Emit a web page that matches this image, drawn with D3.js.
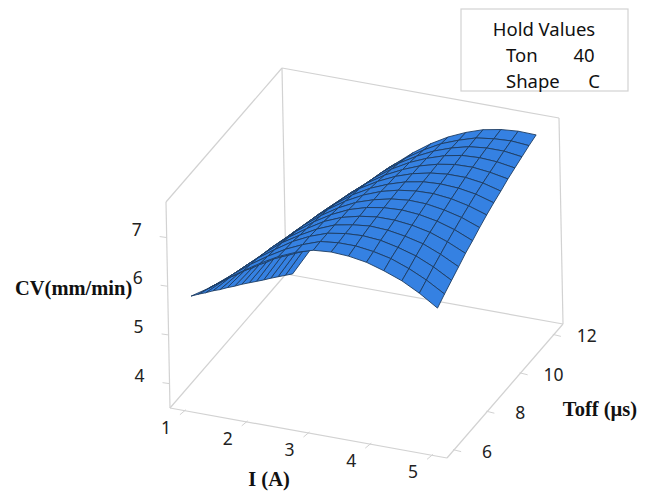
<!DOCTYPE html>
<html>

<script src="https://d3js.org/d3.v7.min.js"></script>

<style>

  body, html {
    padding: 0;
    margin: 0;
    background: white;
  }

  svg {
    display: block;
  }

</style>

<body>
  <svg width="648" height="491"></svg>

  <script>

    // fitted surface: one row per Toff, one column per I

    var currentValues = [1, 1.29, 1.57, 1.86, 2.14, 2.43, 2.71, 3, 3.29, 3.57, 3.86, 4.14, 4.43, 4.71, 5];
    var toffValues = [6, 6.43, 6.86, 7.29, 7.71, 8.14, 8.57, 9, 9.43, 9.86, 10.29, 10.71, 11.14, 11.57, 12];

    var cvValues = [
      [5.66, 5.89, 6.14, 6.38, 6.60, 6.80, 6.95, 7.06, 7.09, 7.07, 7.01, 6.90, 6.76, 6.57, 6.33],
      [5.53, 5.80, 6.07, 6.34, 6.57, 6.78, 6.94, 7.07, 7.11, 7.11, 7.06, 6.98, 6.84, 6.67, 6.45],
      [5.39, 5.70, 6.00, 6.30, 6.54, 6.77, 6.94, 7.07, 7.13, 7.15, 7.12, 7.04, 6.93, 6.77, 6.56],
      [5.26, 5.61, 5.93, 6.24, 6.51, 6.73, 6.92, 7.07, 7.14, 7.18, 7.16, 7.10, 7.01, 6.86, 6.67],
      [5.12, 5.50, 5.85, 6.19, 6.46, 6.70, 6.91, 7.06, 7.15, 7.20, 7.20, 7.16, 7.08, 6.95, 6.78],
      [4.99, 5.41, 5.77, 6.12, 6.41, 6.67, 6.88, 7.05, 7.16, 7.22, 7.24, 7.21, 7.14, 7.03, 6.87],
      [4.85, 5.29, 5.69, 6.05, 6.36, 6.63, 6.85, 7.03, 7.15, 7.23, 7.27, 7.26, 7.20, 7.11, 6.97],
      [4.72, 5.19, 5.60, 5.99, 6.30, 6.59, 6.82, 7.01, 7.15, 7.24, 7.29, 7.30, 7.26, 7.18, 7.06],
      [4.58, 5.07, 5.51, 5.91, 6.24, 6.53, 6.78, 6.98, 7.13, 7.24, 7.31, 7.33, 7.31, 7.25, 7.14],
      [4.44, 4.97, 5.41, 5.83, 6.17, 6.47, 6.74, 6.95, 7.12, 7.24, 7.32, 7.36, 7.36, 7.31, 7.21],
      [4.30, 4.84, 5.32, 5.74, 6.10, 6.41, 6.68, 6.91, 7.09, 7.23, 7.33, 7.39, 7.40, 7.36, 7.29],
      [4.17, 4.71, 5.19, 5.63, 6.00, 6.33, 6.62, 6.87, 7.07, 7.22, 7.34, 7.41, 7.43, 7.41, 7.35],
      [4.03, 4.58, 5.07, 5.52, 5.91, 6.25, 6.56, 6.82, 7.03, 7.20, 7.33, 7.42, 7.46, 7.46, 7.41],
      [3.89, 4.45, 4.94, 5.40, 5.80, 6.17, 6.49, 6.76, 6.99, 7.18, 7.32, 7.43, 7.48, 7.50, 7.47],
      [3.75, 4.30, 4.81, 5.28, 5.70, 6.07, 6.41, 6.70, 6.95, 7.15, 7.31, 7.43, 7.50, 7.53, 7.52]
    ];

    var currentTicks = [1, 2, 3, 4, 5];
    var toffTicks = [6, 8, 10, 12];
    var cvTicks = [4, 5, 6, 7];

    var holdNames = ['Ton', 'Shape'];
    var holdSettings = ['40', 'C'];

    var svg = d3.select('svg');
    var tickFont = '"Noto Sans", sans-serif';
    var titleFont = '"Liberation Serif", serif';
    var boxColor = '#d2d2d2';

    // axis ranges of the box, each scale gives a 0-1 position along its edge

    var u = d3.scaleLinear().domain([0.758, 5.242]).range([0, 1]);
    var v = d3.scaleLinear().domain([5.512, 12.488]).range([0, 1]);
    var w = d3.scaleLinear().domain([3.5, 7.73]).range([0, 1]);

    // oblique projection of the box onto the page
    function project(i, t, z) {
      return [
        170 + 277 * u(i) + 116 * v(t) - 4 * w(z),
        408 + 50 * u(i) - 134 * v(t) - 206 * w(z)
      ];
    }

    var iMin = u.domain()[0], iMax = u.domain()[1];
    var tMin = v.domain()[0], tMax = v.domain()[1];
    var zMin = w.domain()[0], zMax = w.domain()[1];

    // box edges

    var boxEdges = [
      [[iMin, tMin, zMin], [iMax, tMin, zMin]],
      [[iMax, tMin, zMin], [iMax, tMax, zMin]],
      [[iMax, tMax, zMin], [iMin, tMax, zMin]],
      [[iMin, tMax, zMin], [iMin, tMin, zMin]],
      [[iMin, tMin, zMin], [iMin, tMin, zMax]],
      [[iMin, tMax, zMin], [iMin, tMax, zMax]],
      [[iMax, tMax, zMin], [iMax, tMax, zMax]],
      [[iMin, tMin, zMax], [iMin, tMax, zMax]],
      [[iMin, tMax, zMax], [iMax, tMax, zMax]]
    ];

    var line = d3.line();

    svg.append('g').selectAll('path').data(boxEdges)
      .enter().append('path')
        .attr('d', function (d) {
          return line(d.map(function (p) { return project(p[0], p[1], p[2]); }));
        })
        .style('fill', 'none')
        .style('stroke', boxColor)
        .style('stroke-width', 1.2);

    // ticks and tick labels

    var ticks = svg.append('g').style('stroke', boxColor).style('stroke-width', 1);

    ticks.selectAll('.tick-i').data(currentTicks)
      .enter().append('path').attr('class', 'tick-i')
        .attr('d', function (d) {
          var p = project(d, tMin, zMin);
          return line([[p[0] + 1, p[1] - 1], [p[0] - 5, p[1] + 4]]);
        });

    ticks.selectAll('.tick-t').data(toffTicks)
      .enter().append('path').attr('class', 'tick-t')
        .attr('d', function (d) {
          var p = project(iMax, d, zMin);
          return line([[p[0] - 2, p[1] + 1], [p[0] + 6, p[1] + 3]]);
        });

    ticks.selectAll('.tick-z').data(cvTicks)
      .enter().append('path').attr('class', 'tick-z')
        .attr('d', function (d) {
          var p = project(iMin, tMin, d);
          return line([[p[0], p[1]], [p[0] - 7, p[1] - 1]]);
        });

    function addLabels(data, place) {
      svg.append('g').selectAll('text').data(data)
        .enter().append('text')
          .attr('x', function (d) { return place(d)[0]; })
          .attr('y', function (d) { return place(d)[1]; })
          .attr('text-anchor', 'middle')
          .attr('dominant-baseline', 'central')
          .style('font-family', tickFont)
          .style('font-size', '17.5px')
          .style('fill', '#222')
          .text(function (d) { return d; });
    }

    addLabels(currentTicks, function (d) {
      var p = project(d, tMin, zMin);
      return [p[0] - 19, p[1] + 16];
    });
    addLabels(toffTicks, function (d) {
      var p = project(iMax, d, zMin);
      return [p[0] + 32, p[1] + 2];
    });
    addLabels(cvTicks, function (d) {
      var p = project(iMin, tMin, d);
      return [p[0] - 30, p[1] - 9];
    });

    // surface cells, far ones first so the near ones paint over them

    var cells = [];
    d3.range(toffValues.length - 2, -1, -1).forEach(function (r) {
      d3.range(0, currentValues.length - 1).forEach(function (c) {
        cells.push([
          project(currentValues[c], toffValues[r], cvValues[r][c]),
          project(currentValues[c + 1], toffValues[r], cvValues[r][c + 1]),
          project(currentValues[c + 1], toffValues[r + 1], cvValues[r + 1][c + 1]),
          project(currentValues[c], toffValues[r + 1], cvValues[r + 1][c])
        ]);
      });
    });

    svg.append('g').selectAll('path').data(cells)
      .enter().append('path')
        .attr('d', function (d) { return line(d) + 'Z'; })
        .style('fill', '#3581e2')
        .style('stroke', '#1d3c62')
        .style('stroke-width', 0.9)
        .style('stroke-linejoin', 'round');

    // axis titles

    var titles = [
      {text: 'CV(mm/min)', x: 15, y: 288, anchor: 'start'},
      {text: 'I (A)', x: 269, y: 479, anchor: 'middle'},
      {text: 'Toff (\u00b5s)', x: 600, y: 409, anchor: 'middle'}
    ];

    svg.append('g').selectAll('text').data(titles)
      .enter().append('text')
        .attr('x', function (d) { return d.x; })
        .attr('y', function (d) { return d.y; })
        .attr('text-anchor', function (d) { return d.anchor; })
        .attr('dominant-baseline', 'central')
        .style('font-family', titleFont)
        .style('font-weight', 'bold')
        .style('font-size', '20.5px')
        .style('fill', '#111')
        .text(function (d) { return d.text; });

    // hold values box

    var legend = svg.append('g');

    legend.append('rect')
      .attr('x', 461)
      .attr('y', 9)
      .attr('width', 167)
      .attr('height', 82)
      .style('fill', 'white')
      .style('stroke', boxColor)
      .style('stroke-width', 1.2);

    legend.append('text')
      .attr('x', 544)
      .attr('y', 28)
      .attr('text-anchor', 'middle')
      .attr('dominant-baseline', 'central')
      .style('font-family', tickFont)
      .style('font-size', '18.5px')
      .style('fill', '#111')
      .text('Hold Values');

    var settingX = [584, 594];

    holdNames.forEach(function (name, i) {
      legend.append('text')
        .attr('x', 506)
        .attr('y', 54 + i * 26)
        .attr('dominant-baseline', 'central')
        .style('font-family', tickFont)
        .style('font-size', '18.5px')
        .style('fill', '#111')
        .text(name);
      legend.append('text')
        .attr('x', settingX[i])
        .attr('y', 54 + i * 26)
        .attr('text-anchor', 'middle')
        .attr('dominant-baseline', 'central')
        .style('font-family', tickFont)
        .style('font-size', '18.5px')
        .style('fill', '#111')
        .text(holdSettings[i]);
    });

  </script>
</body>
</html>
